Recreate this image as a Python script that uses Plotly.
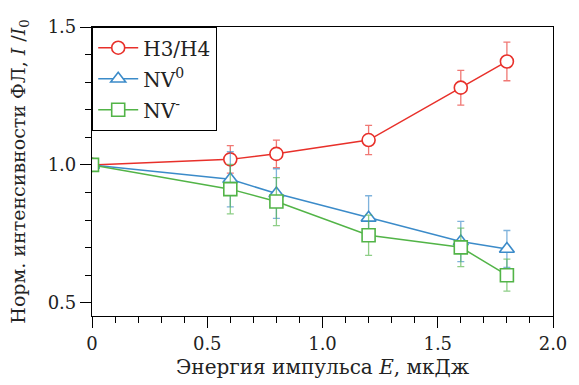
import numpy as np
import plotly.graph_objects as go

# Pulse energy, uJ
energy = [0.0, 0.6, 0.8, 1.2, 1.6, 1.8]

# Normalised PL intensity I/I0 with uncertainties
h3h4 = [1.0, 1.02, 1.04, 1.09, 1.28, 1.375]
h3h4_err = [np.nan, 0.05, 0.05, 0.053, 0.063, 0.07]

nv0 = [1.0, 0.948, 0.896, 0.808, 0.722, 0.695]
nv0_err = [np.nan, 0.10, 0.09, 0.08, 0.073, 0.067]

nvm = [1.0, 0.912, 0.867, 0.745, 0.701, 0.60]
nvm_err = [np.nan, 0.09, 0.087, 0.073, 0.07, 0.058]

series_names = ["H3/H4", "NV<sup>0</sup>", "NV<sup>-</sup>"]

x_tickvals = [0, 0.5, 1.0, 1.5, 2.0]
x_ticktext = ["0", "0.5", "1.0", "1.5", "2.0"]
y_tickvals = [0.5, 1.0, 1.5]
y_ticktext = ["0.5", "1.0", "1.5"]

FONT = "DejaVu Serif, serif"

styles = [
    (h3h4, h3h4_err, "#e8302a", "rgba(232,48,42,0.65)", "circle"),
    (nv0, nv0_err, "#3b8bc9", "rgba(59,139,201,0.65)", "triangle-up"),
    (nvm, nvm_err, "#52b447", "rgba(82,180,71,0.65)", "square"),
]

fig = go.Figure()
for name, (vals, errs, col, ecol, sym) in zip(series_names, styles):
    fig.add_trace(go.Scatter(
        x=energy, y=vals, name=name, mode="lines+markers",
        legendgroup=name,
        line=dict(color=col, width=1.5),
        # white-filled markers so the error bars do not show through
        marker=dict(symbol=sym, size=13, color="white",
                    line=dict(color=col, width=1.6)),
        error_y=dict(type="data", array=errs, visible=True,
                     color=ecol, thickness=1.3, width=3.5),
    ))

axis_common = dict(
    showline=True, linecolor="black", linewidth=1.2, mirror=True,
    showgrid=False, zeroline=False, ticks="outside", tickcolor="black",
    tickwidth=1, ticklen=11,
    tickfont=dict(family=FONT, size=18, color="#222"),
)

fig.update_xaxes(
    range=[0, 2.0], tickvals=x_tickvals, ticktext=x_ticktext,
    minor=dict(dtick=0.1, tick0=0, ticks="outside", ticklen=6,
               tickcolor="black", tickwidth=1),
    **axis_common,
)
fig.update_yaxes(
    range=[0.452, 1.5], tickvals=y_tickvals, ticktext=y_ticktext,
    minor=dict(dtick=0.1, tick0=0, ticks="outside", ticklen=6,
               tickcolor="black", tickwidth=1),
    **axis_common,
)

fig.add_annotation(
    text="Энергия импульса <i>E</i>, мкДж",
    xref="paper", yref="paper", x=0.5, y=-0.175,
    xanchor="center", yanchor="middle", showarrow=False,
    font=dict(family=FONT, size=20, color="#222"),
)
fig.add_annotation(
    text="Норм. интенсивности ФЛ, <i>I</i> /<i>I</i><sub>0</sub>",
    xref="paper", yref="paper", x=-0.158, y=0.5,
    xanchor="center", yanchor="middle", textangle=-90, showarrow=False,
    font=dict(family=FONT, size=19, color="#222"),
)

fig.update_layout(
    width=579, height=385,
    margin=dict(l=92, r=17, t=27, b=69),
    plot_bgcolor="white", paper_bgcolor="white",
    showlegend=True,
    legend=dict(
        x=0, y=1, xanchor="left", yanchor="top",
        bordercolor="black", borderwidth=1.2, bgcolor="white",
        font=dict(family=FONT, size=20, color="#222"),
        itemwidth=40, tracegroupgap=2,
    ),
)

fig.write_html("out.html")
